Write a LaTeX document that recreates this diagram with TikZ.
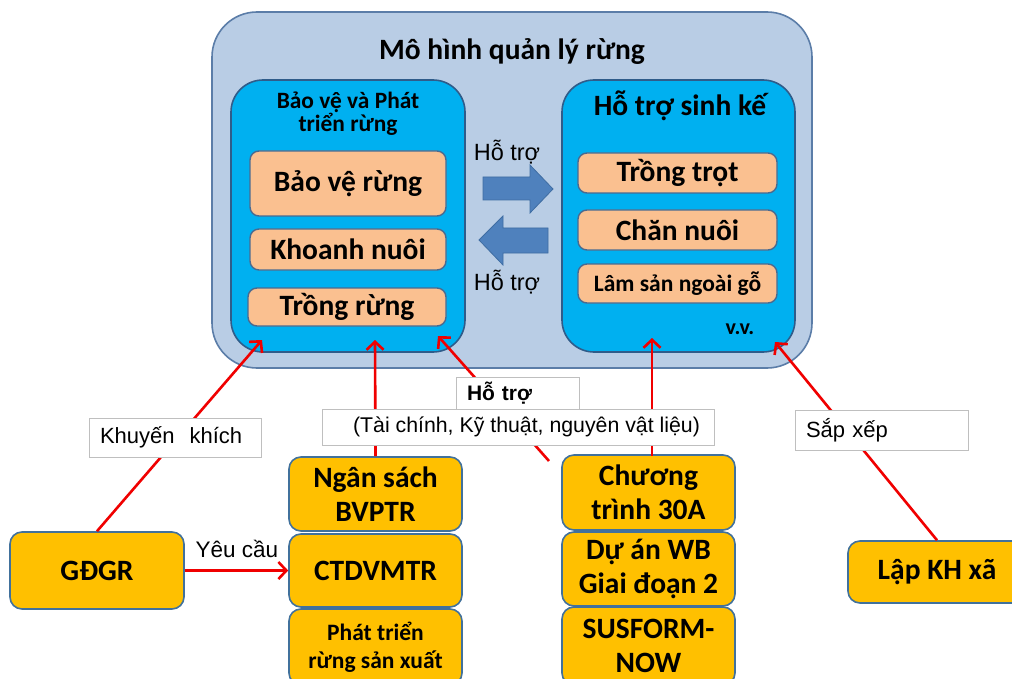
\documentclass[tikz,border=0pt]{standalone}
\usepackage{fontspec}
\setmainfont{Carlito}
\newfontfamily\arialf{Liberation Sans}
\usetikzlibrary{arrows.meta}

\definecolor{outerfill}{HTML}{B9CDE5}
\definecolor{outerline}{HTML}{5B7DA8}
\definecolor{innerfill}{HTML}{00B0F0}
\definecolor{innerline}{HTML}{2F5C8A}
\definecolor{peachfill}{HTML}{FAC090}
\definecolor{peachline}{HTML}{4A6A90}
\definecolor{fundfill}{HTML}{FFC000}
\definecolor{fundline}{HTML}{41719C}
\definecolor{blockblue}{HTML}{4F81BD}
\definecolor{blockline}{HTML}{3F6DA3}
\definecolor{linkred}{HTML}{F00000}

\begin{document}
\begin{tikzpicture}[x=1pt,y=-1pt,
  outerbox/.style={draw=outerline, fill=outerfill, line width=1.6pt, rounded corners=45pt,
    inner sep=0pt},
  innerbox/.style={draw=innerline, fill=innerfill, line width=1.6pt, rounded corners=32pt,
    inner sep=0pt},
  peachbox/.style={draw=peachline, fill=peachfill, line width=1.4pt, rounded corners=9pt,
    inner sep=0pt, font=\bfseries\fontsize{29.5}{32}\selectfont},
  fundbox/.style={draw=fundline, fill=fundfill, line width=1.6pt, rounded corners=12pt,
    inner sep=0pt, align=center, font=\bfseries\fontsize{29.5}{34}\selectfont},
  labelbox/.style={draw=black!25, fill=white, line width=0.8pt, inner xsep=11pt, inner ysep=0pt,
    align=left, font=\arialf\fontsize{22}{25}\selectfont},
  plain/.style={inner sep=0pt},
  redarrow/.style={draw=linkred, line width=2.6pt,
    -{Straight Barb[length=8pt,width=17pt,line width=2.6pt]}},
  blockarrow/.style={fill=blockblue, draw=blockline, line width=0.8pt}
]
\useasboundingbox (0,0) rectangle (1012,679);
\fill[white] (0,0) rectangle (1012,679);
\clip (0,0) rectangle (1012,679);

% forest management model frame
\node[outerbox, minimum width=600pt, minimum height=356pt] (model) at (512,190) {};
\node[plain, font=\bfseries\fontsize{29.5}{32}\selectfont] (title) at (512,52) {Mô hình quản lý rừng};

% left group: forest protection and development
\node[innerbox, minimum width=234pt, minimum height=272pt] (protect) at (348,216) {};
\node[plain, align=center, font=\bfseries\fontsize{23.4}{23}\selectfont] (protecttitle) at (348,114)
  {Bảo vệ và Phát\\triển rừng};
\node[peachbox, minimum width=196pt, minimum height=65pt] (bvr) at (348,183.5) {Bảo vệ rừng};
\node[peachbox, minimum width=196pt, minimum height=41pt] (kn) at (348,249.5) {Khoanh nuôi};
\node[peachbox, minimum width=198pt, minimum height=38pt] (tr) at (347,307) {Trồng rừng};

% right group: livelihood support
\node[innerbox, minimum width=233pt, minimum height=272pt] (liveli) at (678.5,216) {};
\node[plain, font=\bfseries\fontsize{29.5}{32}\selectfont] (livelititle) at (680,106) {Hỗ trợ sinh kế};
\node[peachbox, minimum width=199pt, minimum height=40pt] (tt) at (677.5,173) {Trồng trọt};
\node[peachbox, minimum width=199pt, minimum height=40pt] (cn) at (677.5,230) {Chăn nuôi};
\node[peachbox, minimum width=199pt, minimum height=39pt, font=\bfseries\fontsize{23.5}{26}\selectfont]
  (ls) at (677.5,283.5) {Lâm sản ngoài gỗ};
\node[plain, font=\bfseries\fontsize{22}{24}\selectfont] (vv) at (740,329) {v.v.};

% mutual support block arrows
\draw[blockarrow] (483,177) -- (530,177) -- (530,165) -- (553,189) -- (530,213) -- (530,200)
  -- (483,200) -- cycle;
\draw[blockarrow] (548,228) -- (503,228) -- (503,216) -- (479,240) -- (503,265) -- (503,253)
  -- (548,253) -- cycle;
\node[plain, font=\arialf\fontsize{23.5}{26}\selectfont] (ht1) at (507,152) {Hỗ trợ};
\node[plain, font=\arialf\fontsize{23.5}{26}\selectfont] (ht2) at (507,282) {Hỗ trợ};

% funding and planning boxes
\node[fundbox, minimum width=174pt, minimum height=77pt] (gdgr) at (97,570.5) {GĐGR};
\node[fundbox, minimum width=173pt, minimum height=74pt] (ngan) at (375.5,494) {Ngân sách\\BVPTR};
\node[fundbox, minimum width=173pt, minimum height=73pt] (ctdv) at (375.5,570.5) {CTDVMTR};
\node[fundbox, minimum width=173pt, minimum height=76pt, font=\bfseries\fontsize{23.5}{28}\selectfont]
  (phat) at (375.5,647) {Phát triển\\rừng sản xuất};
\node[fundbox, minimum width=173pt, minimum height=75pt] (chuong) at (648.5,492.5) {Chương\\trình 30A};
\node[fundbox, minimum width=173pt, minimum height=74pt] (duan) at (648.5,569) {Dự án WB\\Giai đoạn 2};
\node[fundbox, minimum width=173pt, minimum height=78pt] (sus) at (648.5,646) {SUSFORM-\\NOW};
\node[fundbox, minimum width=178pt, minimum height=62pt] (lap) at (937,572) {Lập KH xã};

% arrow end points on the model frame
\coordinate (inL1) at (262,340);
\coordinate (inL2) at (375,340);
\coordinate (inL3) at (438,336);
\coordinate (inR1) at (652,338);
\coordinate (inR2) at (775,342);
\coordinate (fromC) at (549,461);
\coordinate (fromCh) at (652,456);

\draw[redarrow] (gdgr.north) -- (inL1);
\draw[redarrow] (ngan.north) -- (inL2);
\draw[redarrow] (fromC) -- (inL3);
\draw[redarrow] (fromCh) -- (inR1);
\draw[redarrow] (lap.north) -- (inR2);
\draw[redarrow] (gdgr.east) -- (ctdv.west);
\node[plain, font=\arialf\fontsize{22.5}{25}\selectfont] (yc) at (237,549) {Yêu cầu};

% relation labels
\node[labelbox, text width=150pt, minimum height=39pt] (khuyen) at (175,437.5)
  {Khuyến\hspace{0.35em} khích};
\node[labelbox, text width=101pt, minimum height=33pt, font=\arialf\bfseries\fontsize{21}{24}\selectfont]
  (hotro) at (517.5,393.5) {Hỗ trợ};
\node[labelbox, inner xsep=0pt, minimum width=392pt, minimum height=36pt,
  font=\arialf\fontsize{21.3}{24}\selectfont]
  (taichinh) at (518,427) {\hspace{17pt}(Tài chính, Kỹ thuật, nguyên vật liệu)};
\node[labelbox, text width=151pt, minimum height=40pt] (sapxep) at (881.5,430) {Sắp xếp};
\end{tikzpicture}
\end{document}
